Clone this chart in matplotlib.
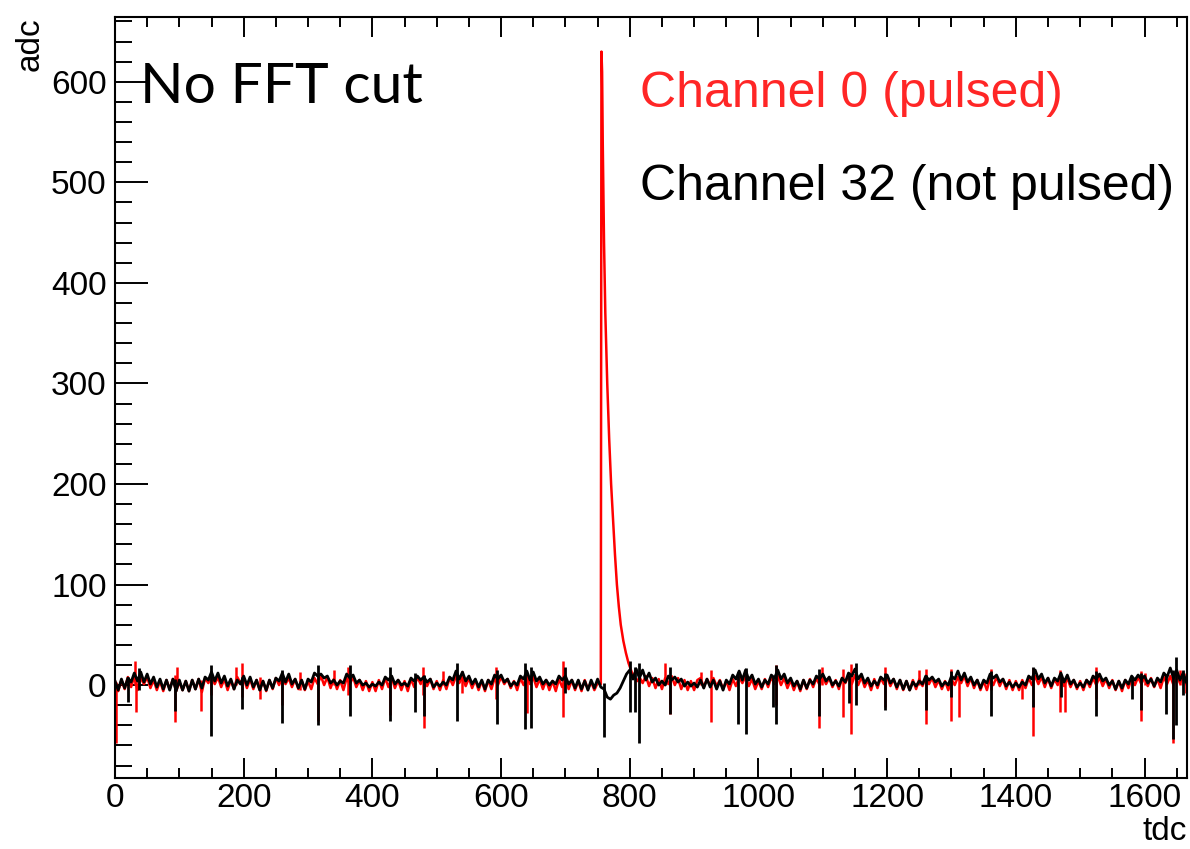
import numpy as np
import matplotlib
matplotlib.use("Agg")
import matplotlib.pyplot as plt
from matplotlib.ticker import MultipleLocator

# ---------------- data ----------------
TDC_STEP = 5  # baseline arrays are sampled every 5 tdc, starting at 0

# Channel 32 (not pulsed) baseline, tdc 0..1665
ch32_base = [
    4, -5, 6, -3, 7, 3, 12, 4, 13, 3, 11, 1, 8, -2, 6, -4, 5, -5, 6, -6,
    5, -5, 4, -6, 5, -4, 6, -3, 8, 5, 13, 4, 12, 2, 9, -1, 6, -4, 5, 1,
    9, 0, 8, -2, 5, -5, 4, -5, 5, -3, 7, 4, 12, 3, 11, 1, 6, -3, 5, -4,
    6, 3, 12, 9, 11, 7, 9, 2, 5, 0, 4, 2, 11, 7, 10, 2, 5, 0, 2, -2,
    1, -1, 3, 0, 8, 5, 9, 1, 5, 0, 2, -1, 7, 4, 9, 5, 8, 3, 6, -2,
    2, -1, 3, 0, 8, 5, 14, 6, 13, 4, 9, 1, 6, -2, 5, -4, 5, 1, 10, 6,
    10, 3, 6, -1, 3, 0, 9, 6, 14, 5, 13, 4, 8, 1, 5, 0, 4, 1, 9, 5,
    9, 1, 5, -3, 5, -4, 4, -5, 5, -3, 6, -2, -4, -12, -14, -10, -8, -3, 4, 11,
    15, 6, 16, 7, 15, 5, 12, 3, 7, 0, 4, 0, 9, 5, 8, 3, 6, -1, 3, -1,
    2, -2, 5, -3, 6, -2, 5, -4, 4, -5, 5, 1, 10, 6, 14, 5, 15, 5, 10, 1,
    6, -2, 5, 1, 10, 7, 15, 6, 11, 2, 7, -1, 4, -4, 5, -3, 5, 1, 9, 6,
    11, 4, 8, 0, 4, -1, 7, 3, 12, 9, 16, 6, 11, 2, 7, -1, 4, 0, 8, 5,
    10, 2, 6, -2, 5, -4, 4, -5, 3, -1, 4, 1, 9, 5, 8, 3, 6, -1, 3, 0,
    9, 6, 14, 5, 12, 3, 8, 0, 5, -3, 5, 2, 11, 7, 10, 3, 6, -1, 3, -2,
    2, -2, 3, 0, 9, 6, 15, 6, 11, 2, 7, -1, 7, 4, 12, 3, 10, 1, 5, -2,
    2, -2, 5, 1, 9, 6, 11, 4, 7, 0, 4, -4, 4, -3, 5, 1, 9, 5, 10, 6,
    9, 2, 6, -1, 7, 3, 12, 8, 17, 7, 15, 5, 12, 3,
]

# Channel 0 (pulsed) baseline, tdc 0..1665 (pulse region replaced below)
ch0_base = [
    4, -6, 5, -4, 8, -2, 9, -5, 7, 1, 8, -3, 5, -5, 4, -6, 5, -4, 6, -6,
    3, -5, 4, -6, 5, -4, 6, -7, 7, 2, 9, 1, 8, -2, 6, -5, 5, -4, 8, 2,
    7, -3, 6, -4, 5, -5, 4, -6, 5, -4, 7, 0, 8, 1, 7, -2, 6, -4, 5, -5,
    4, -4, 7, 1, 9, 0, 8, -3, 6, -4, 5, -5, 7, 1, 8, -2, 5, -5, 4, -6,
    3, -6, 5, -4, 7, -2, 8, -3, 5, -5, 4, -6, 6, -2, 8, 1, 9, -1, 6, -4,
    4, -5, 5, -4, 7, 0, 9, 2, 8, -1, 7, -3, 5, -5, 4, -6, 5, -4, 7, 0,
    8, 1, 6, -3, 4, -5, 7, 0, 9, 1, 8, -2, 6, -4, 5, -5, 4, -6, 6, -2,
    6, -4, 5, -5, 4, -6, 5, -4, 3, -5, 2, 0, 0, 0, 0, 0, 0, 0, 0, 0,
    0, 0, 0, 8, 2, 9, -1, 7, -3, 6, -4, 7, 1, 9, 0, 7, -4, 5, -5, 4,
    -5, 5, 7, -2, 6, 0, 7, -1, 5, -4, 4, -5, 6, -1, 8, 2, 9, -1, 6, -4,
    4, -4, 6, -2, 8, 1, 9, 0, 7, -3, 5, -5, 4, -6, 5, -4, 6, -2, 7, 0,
    8, 1, 7, -2, 5, -4, 7, 2, 9, 1, 10, 0, 8, -2, 5, -5, 6, -3, 7, 1,
    8, -1, 6, -4, 5, -5, 4, -5, 5, -4, 6, -1, 8, 1, 7, -2, 5, -4, 4, -5,
    6, 0, 8, 2, 9, -1, 7, -3, 5, -5, 4, -5, 7, 0, 8, -1, 6, -4, 5, -5,
    4, -5, 5, -3, 7, 0, 9, 1, 8, -2, 7, -3, 6, 0, 8, -1, 7, -2, 5, -4,
    4, -5, 5, -2, 7, 0, 8, -1, 6, -3, 5, -5, 4, -6, 5, -3, 7, 0, 8, 1,
    8, -1, 7, -2, 6, -3, 8, 1, 9, 0, 10, 2, 8, 1,
]

# Channel 0 pulse
pulse_tdc = [755, 756, 757, 758, 760, 762, 765, 768, 771, 774, 777, 780,
             783, 786, 790, 794, 798, 803, 808, 812]
pulse_adc = [1, 630, 610, 540, 440, 370, 300, 245, 200, 165, 130, 100,
             78, 60, 44, 32, 22, 13, 7, 4]

# Single-sample noise spikes: position, lowest and highest value
ch32_spk_tdc = [20, 38, 93, 149, 198, 260, 315, 365, 427, 467, 480, 531, 593,
                637, 646, 700, 760, 800, 808, 815, 862, 968, 980, 1022, 1028,
                1094, 1140, 1151, 1196, 1261, 1300, 1361, 1426, 1470, 1525,
                1580, 1594, 1634, 1644, 1649, 1660]
ch32_spk_lo = [-17, -5, -26, -51, -24, -38, -40, -31, -36, -27, -31, -36, -39,
               -44, -43, -8, -52, -27, -27, -58, -29, -39, -49, -22, -39,
               -31, -18, -20, -25, -25, -12, -31, -22, -12, -31,
               -14, -25, -29, -54, -40, -10]
ch32_spk_hi = [8, 17, 6, 20, 8, 15, 20, 20, 18, 12, 10, 22, 15,
               22, 18, 18, 2, 24, 18, 22, 18, 13, 17, 8, 20,
               16, 10, 22, 12, 10, 14, 14, 18, 10, 14,
               8, 12, 10, 15, 28, 15]

ch0_spk_tdc = [1, 31, 33, 93, 96, 133, 149, 188, 198, 225, 260, 288, 315, 340,
               362, 427, 478, 480, 510, 540, 592, 641, 696, 855, 862, 911, 926,
               1028, 1094, 1098, 1132, 1144, 1196, 1250, 1261, 1300, 1311,
               1361, 1410, 1426, 1468, 1477, 1525, 1594, 1600, 1644, 1655, 1665]
ch0_spk_lo = [-58, 0, -27, -37, 0, -26, -10, 0, -12, -14, -20, -5, -36, 0,
              -10, -30, -10, -43, 0, -8, -14, -28, -32, 0, -29, 0, -37,
              -20, -43, 0, -32, -49, -22, 0, -39, -36, -32,
              -5, -14, -51, -27, -27, -14, -36, 0, -58, 0, -8]
ch0_spk_hi = [3, 24, 5, 10, 18, 5, 14, 18, 22, 8, 10, 13, 12, 15,
              18, 8, 18, 5, 14, 14, 18, 8, 24, 22, 10, 13, 15,
              20, 5, 18, 16, 21, 18, 15, 16, 16, 8,
              16, 4, 17, 15, 4, 18, 14, 12, 6, 15, 12]

x_range = (0, 1666)
y_range = (-92.4, 664.4)

# ---------------- figure ----------------
W, H = 1190, 849
fig = plt.figure(figsize=(W / 100, H / 100), dpi=100)
L, R, T, B = 115, 1187, 17, 778
ax = fig.add_axes([L / W, 1 - B / H, (R - L) / W, (B - T) / H])

FONT = ["Liberation Sans", "DejaVu Sans"]
RED = "#ff0000"

# red channel: baseline with pulse inserted
t0 = np.arange(len(ch0_base)) * TDC_STEP
a0 = np.array(ch0_base, dtype=float)
keep = (t0 < pulse_tdc[0]) | (t0 > pulse_tdc[-1])
t_red = np.concatenate([t0[keep], pulse_tdc])
a_red = np.concatenate([a0[keep], pulse_adc])
order = np.argsort(t_red, kind="stable")
ax.plot(t_red[order], a_red[order], color=RED, lw=1.8, zorder=2)
ax.vlines(ch0_spk_tdc, ch0_spk_lo, ch0_spk_hi, color=RED, lw=1.8, zorder=2)

# black channel
t32 = np.arange(len(ch32_base)) * TDC_STEP
ax.plot(t32, ch32_base, color="black", lw=2.0, zorder=3)
ax.vlines(ch32_spk_tdc, ch32_spk_lo, ch32_spk_hi, color="black", lw=2.0, zorder=3)

ax.set_xlim(*x_range)
ax.set_ylim(*y_range)

ax.xaxis.set_major_locator(MultipleLocator(200))
ax.xaxis.set_minor_locator(MultipleLocator(50))
ax.yaxis.set_major_locator(MultipleLocator(100))
ax.yaxis.set_minor_locator(MultipleLocator(20))

for s in ax.spines.values():
    s.set_linewidth(1.5)

ax.tick_params(axis="x", which="major", direction="in", length=14.4, width=1.4,
               top=True, bottom=True, pad=3.5, labelsize=24)
ax.tick_params(axis="x", which="minor", direction="in", length=7.2, width=1.4,
               top=True, bottom=True)
ax.tick_params(axis="y", which="major", direction="in", length=23.8, width=1.4,
               left=True, right=False, pad=6.0, labelsize=24)
ax.tick_params(axis="y", which="minor", direction="in", length=12.2, width=1.4,
               left=True, right=False)
for lab in ax.get_xticklabels() + ax.get_yticklabels():
    lab.set_family(FONT)

# axis titles (ROOT style: at the ends)
fig.text(1187 / W, 0.002, "tdc", ha="right", va="bottom",
         fontsize=24, family=FONT)
fig.text(46 / W, 1 - 17 / H, "adc", ha="right", va="top", rotation=90,
         fontsize=24, family=FONT)

# annotations
fig.text(140 / W, 1 - 103 / H, "No FFT cut", ha="left", va="baseline",
         fontsize=41, family=["Lato", "Liberation Sans"], weight="normal")
fig.text(640 / W, 1 - 107 / H, "Channel 0 (pulsed)", ha="left", va="baseline",
         fontsize=36, family=FONT, color="#ff2626")
fig.text(640 / W, 1 - 200 / H, "Channel 32 (not pulsed)", ha="left",
         va="baseline", fontsize=36, family=FONT, color="black")

fig.savefig("out.png", dpi=100)
